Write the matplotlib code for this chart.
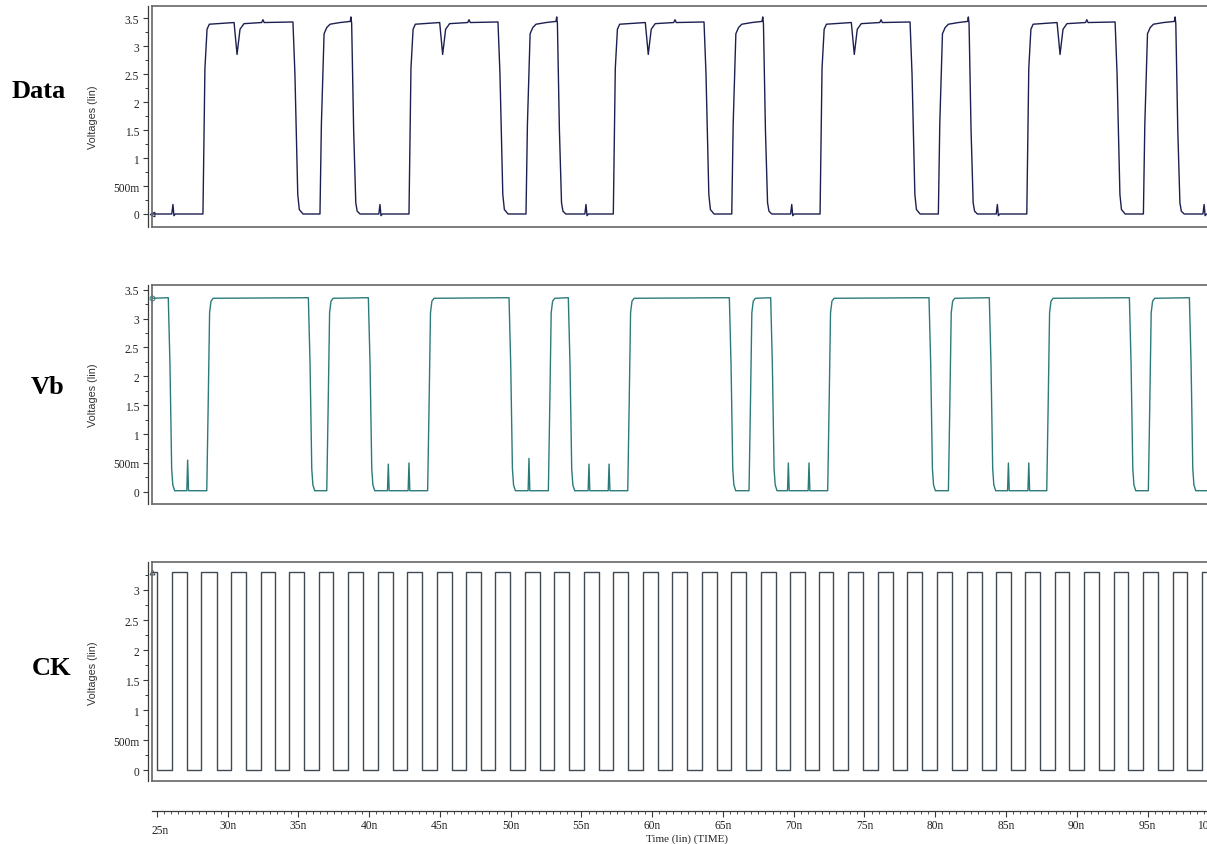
import matplotlib
matplotlib.use("Agg")
import matplotlib.pyplot as plt
import matplotlib.transforms as mtransforms
from matplotlib.ticker import MultipleLocator, FixedLocator, FixedFormatter

plt.rcParams["font.family"] = ["Liberation Serif", "DejaVu Serif"]

# --- FIGURE / LAYOUT (pixels) ---
W, H = 1207, 845
T_LEFT, T_RIGHT = 24.65, 100.83   # ns at x=152 px and x=1230 px (axes run past the right edge)

# --- DATA: (time in ns, voltage in V) ---
data_t = [24.65, 26.05, 26.13, 26.20, 26.30,
          28.25, 28.39, 28.54, 28.70, 30.45, 30.66, 30.87, 31.15, 32.40, 32.49, 32.58,
          34.61, 34.75, 34.95, 35.06, 35.32, 36.52, 36.62, 36.81, 37.00, 37.23, 37.94,
          38.66, 38.71, 38.76, 38.90, 39.05, 39.15, 39.35, 40.68, 40.76, 40.83, 40.93,
          42.81, 42.95, 43.10, 43.26, 44.98, 45.19, 45.40, 45.68, 46.96, 47.05, 47.14,
          49.10, 49.24, 49.44, 49.55, 49.81, 51.08, 51.18, 51.37, 51.56, 51.79, 52.50,
          53.20, 53.25, 53.30, 53.44, 53.59, 53.69, 53.89, 55.24, 55.32, 55.39, 55.49,
          57.25, 57.39, 57.54, 57.70, 59.51, 59.72, 59.93, 60.21, 61.52, 61.61, 61.70,
          63.66, 63.80, 64.00, 64.11, 64.37, 65.62, 65.72, 65.91, 66.10, 66.33, 67.04,
          67.76, 67.81, 67.86, 68.00, 68.15, 68.25, 68.45, 69.78, 69.86, 69.93, 70.03,
          71.86, 72.00, 72.15, 72.31, 74.07, 74.28, 74.49, 74.77, 76.08, 76.17, 76.26,
          78.22, 78.36, 78.56, 78.67, 78.93, 80.22, 80.32, 80.51, 80.70, 80.93, 81.64,
          82.29, 82.34, 82.39, 82.53, 82.68, 82.78, 82.98, 84.31, 84.39, 84.46, 84.56,
          86.47, 86.61, 86.76, 86.92, 88.61, 88.82, 89.03, 89.31, 90.62, 90.71, 90.80,
          92.71, 92.85, 93.05, 93.16, 93.42, 94.71, 94.81, 95.00, 95.19, 95.42, 96.13,
          96.90, 96.95, 97.00, 97.14, 97.29, 97.39, 97.59, 98.92, 99.00, 99.07, 99.17,
          100.83]
data_v = [0.0, 0.0, 0.17, -0.03, 0.0,
          0.0, 2.6, 3.30, 3.39, 3.42, 2.85, 3.30, 3.40, 3.42, 3.47, 3.42,
          3.43, 2.5, 0.35, 0.08, 0.0, 0.0, 1.6, 3.22, 3.33, 3.39, 3.42,
          3.44, 3.52, 3.40, 1.5, 0.2, 0.05, 0.0, 0.0, 0.17, -0.03, 0.0,
          0.0, 2.6, 3.30, 3.39, 3.42, 2.85, 3.30, 3.40, 3.42, 3.47, 3.42,
          3.43, 2.5, 0.35, 0.08, 0.0, 0.0, 1.6, 3.22, 3.33, 3.39, 3.42,
          3.44, 3.52, 3.40, 1.5, 0.2, 0.05, 0.0, 0.0, 0.17, -0.03, 0.0,
          0.0, 2.6, 3.30, 3.39, 3.42, 2.85, 3.30, 3.40, 3.42, 3.47, 3.42,
          3.43, 2.5, 0.35, 0.08, 0.0, 0.0, 1.6, 3.22, 3.33, 3.39, 3.42,
          3.44, 3.52, 3.40, 1.5, 0.2, 0.05, 0.0, 0.0, 0.17, -0.03, 0.0,
          0.0, 2.6, 3.30, 3.39, 3.42, 2.85, 3.30, 3.40, 3.42, 3.47, 3.42,
          3.43, 2.5, 0.35, 0.08, 0.0, 0.0, 1.6, 3.22, 3.33, 3.39, 3.42,
          3.44, 3.52, 3.40, 1.5, 0.2, 0.05, 0.0, 0.0, 0.17, -0.03, 0.0,
          0.0, 2.6, 3.30, 3.39, 3.42, 2.85, 3.30, 3.40, 3.42, 3.47, 3.42,
          3.43, 2.5, 0.35, 0.08, 0.0, 0.0, 1.6, 3.22, 3.33, 3.39, 3.42,
          3.44, 3.52, 3.40, 1.5, 0.2, 0.05, 0.0, 0.0, 0.17, -0.03, 0.0,
          0.0]

vb_t = [24.65, 25.80, 25.92, 26.04, 26.12, 26.25, 27.11, 27.17, 27.23,
        28.52, 28.62, 28.72, 28.82, 28.97, 35.70, 35.82, 35.94, 36.02, 36.15,
        37.00, 37.10, 37.20, 37.30, 37.45, 39.94, 40.06, 40.18, 40.26, 40.39,
        41.29, 41.35, 41.41, 42.75, 42.81, 42.87,
        44.13, 44.23, 44.33, 44.43, 44.58, 49.88, 50.00, 50.12, 50.20, 50.33,
        51.23, 51.29, 51.35,
        52.66, 52.76, 52.86, 52.96, 53.11, 54.07, 54.19, 54.31, 54.39, 54.52,
        55.47, 55.53, 55.59, 56.89, 56.95, 57.01,
        58.27, 58.37, 58.47, 58.57, 58.72, 65.45, 65.57, 65.69, 65.77, 65.90,
        66.84, 66.94, 67.04, 67.14, 67.29, 68.37, 68.49, 68.61, 68.69, 68.82,
        69.56, 69.62, 69.68, 71.02, 71.08, 71.14,
        72.40, 72.50, 72.60, 72.70, 72.85, 79.56, 79.68, 79.80, 79.88, 80.01,
        80.93, 81.03, 81.13, 81.23, 81.38, 83.82, 83.94, 84.06, 84.14, 84.27,
        85.11, 85.17, 85.23, 86.55, 86.61, 86.67,
        87.88, 87.98, 88.08, 88.18, 88.33, 93.72, 93.84, 93.96, 94.04, 94.17,
        95.06, 95.16, 95.26, 95.36, 95.51, 97.96, 98.08, 98.20, 98.28, 98.41,
        100.83]
vb_v = [3.35, 3.36, 2.2, 0.4, 0.12, 0.02, 0.02, 0.55, 0.02,
        0.02, 1.5, 3.10, 3.30, 3.35, 3.36, 2.2, 0.4, 0.12, 0.02,
        0.02, 1.5, 3.10, 3.30, 3.35, 3.36, 2.2, 0.4, 0.12, 0.02,
        0.02, 0.48, 0.02, 0.02, 0.50, 0.02,
        0.02, 1.5, 3.10, 3.30, 3.35, 3.36, 2.2, 0.4, 0.12, 0.02,
        0.02, 0.58, 0.02,
        0.02, 1.5, 3.10, 3.30, 3.35, 3.36, 2.2, 0.4, 0.12, 0.02,
        0.02, 0.48, 0.02, 0.02, 0.48, 0.02,
        0.02, 1.5, 3.10, 3.30, 3.35, 3.36, 2.2, 0.4, 0.12, 0.02,
        0.02, 1.5, 3.10, 3.30, 3.35, 3.36, 2.2, 0.4, 0.12, 0.02,
        0.02, 0.50, 0.02, 0.02, 0.50, 0.02,
        0.02, 1.5, 3.10, 3.30, 3.35, 3.36, 2.2, 0.4, 0.12, 0.02,
        0.02, 1.5, 3.10, 3.30, 3.35, 3.36, 2.2, 0.4, 0.12, 0.02,
        0.02, 0.50, 0.02, 0.02, 0.50, 0.02,
        0.02, 1.5, 3.10, 3.30, 3.35, 3.36, 2.2, 0.4, 0.12, 0.02,
        0.02, 1.5, 3.10, 3.30, 3.35, 3.36, 2.2, 0.4, 0.12, 0.02,
        0.02]

# clock edges (ns), high level 3.3 V
ck_rise = [26.09, 28.11, 30.23, 32.33, 34.35, 36.47, 38.52, 40.64, 42.69, 44.77,
           46.84, 48.91, 51.01, 53.08, 55.18, 57.25, 59.33, 61.42, 63.50, 65.57,
           67.67, 69.74, 71.81, 73.86, 75.98, 78.03, 80.13, 82.23, 84.30, 86.37,
           88.45, 90.54, 92.62, 94.71, 96.78, 98.83]
ck_fall = [24.98, 27.14, 29.22, 31.29, 33.34, 35.41, 37.46, 39.58, 41.70, 43.75,
           45.83, 47.90, 49.97, 52.07, 54.14, 56.24, 58.31, 60.39, 62.48, 64.56,
           66.63, 68.73, 70.80, 72.80, 74.92, 77.00, 79.09, 81.17, 83.29, 85.34,
           87.41, 89.48, 91.58, 93.65, 95.77, 97.82]
CK_HIGH = 3.3

# y tick labels as the viewer prints them
ytick_vals = [0, 0.5, 1, 1.5, 2, 2.5, 3, 3.5]
ytick_labels = ["0", "500m", "1", "1.5", "2", "2.5", "3", "3.5"]
xtick_vals = list(range(25, 101, 5))
xtick_labels = ["%dn" % v for v in xtick_vals]

# build the clock square wave from its edges
edges = sorted([(t, CK_HIGH) for t in ck_rise] + [(t, 0.0) for t in ck_fall])
ck_t, ck_v = [T_LEFT], [CK_HIGH]
for t, lvl in edges:
    ck_t += [t, t]
    ck_v += [ck_v[-1], lvl]
ck_t.append(T_RIGHT)
ck_v.append(ck_v[-1])

FRAME = "#666666"
AXC = "#3a3a3a"


def px_rect(left, top, right, bottom):
    return [left / W, 1 - bottom / H, (right - left) / W, (bottom - top) / H]


fig = plt.figure(figsize=(W / 100, H / 100), dpi=100)

panels = [
    # name, rect(px), t, v, color, ylim, n ticks, label pos, start marker
    ("Data", (152, 7.3, 1230, 227.7), data_t, data_v, "#1c1f50", (-0.227, 3.71), 8, (39, 92), "<"),
    ("Vb", (152, 286, 1230, 505), vb_t, vb_v, "#2b7a7a", (-0.21, 3.58), 8, (47.5, 387), "o"),
    ("CK", (152, 563.3, 1230, 782.3), ck_t, ck_v, "#3e4a56", (-0.18, 3.46), 7, (51.7, 668.6), "^"),
]

for name, rect, t, v, col, ylim, nt, lpos, mk in panels:
    ax = fig.add_axes(px_rect(*rect))
    ax.plot(t, v, color=col, lw=1.0)
    ax.plot(t[0], v[0], marker=mk, ms=3.5, mfc="none", mec=col, mew=0.7, clip_on=False)
    ax.set_xlim(T_LEFT, T_RIGHT)
    ax.set_ylim(*ylim)

    ax.yaxis.set_major_locator(FixedLocator(ytick_vals[:nt]))
    ax.yaxis.set_major_formatter(FixedFormatter(ytick_labels[:nt]))
    ax.yaxis.set_minor_locator(MultipleLocator(0.25))
    ax.tick_params(axis="y", which="major", length=3.6, width=0.8, color=AXC,
                   labelsize=8.3, pad=2.5, labelcolor="#222222")
    ax.tick_params(axis="y", which="minor", length=2.0, width=0.7, color=AXC)
    ax.set_xticks([])

    for s in ("top", "bottom", "right"):
        ax.spines[s].set_color(FRAME)
        ax.spines[s].set_linewidth(1.2)
    ax.spines["left"].set_position(("outward", 3.2))
    ax.spines["left"].set_color(AXC)
    ax.spines["left"].set_linewidth(0.9)
    # inner left edge of the plot box
    ax.plot([0, 0], [0, 1], transform=ax.transAxes, color=FRAME, lw=1.2, clip_on=False)

    cy = (rect[1] + rect[3]) / 2
    fig.text(93 / W, 1 - cy / H, "Voltages (lin)", rotation=90, ha="center", va="center",
             fontsize=7.8, family="Liberation Sans", color="#333333")
    fig.text(lpos[0] / W, 1 - lpos[1] / H, name, ha="center", va="center",
             fontsize=19, fontweight="bold", color="black")

# --- time ruler ---
axt = fig.add_axes(px_rect(152, 800, 1230, 812))
axt.set_xlim(T_LEFT, T_RIGHT)
axt.set_yticks([])
for s in ("top", "left", "right"):
    axt.spines[s].set_visible(False)
axt.spines["bottom"].set_color(AXC)
axt.spines["bottom"].set_linewidth(0.9)
axt.patch.set_alpha(0)
axt.xaxis.set_major_locator(FixedLocator(xtick_vals))
axt.xaxis.set_major_formatter(FixedFormatter(xtick_labels))
axt.xaxis.set_minor_locator(MultipleLocator(0.5))
axt.tick_params(axis="x", which="major", length=4.0, width=0.8, color=AXC,
                labelsize=8.3, pad=1.8, labelcolor="#222222")
axt.tick_params(axis="x", which="minor", length=2.2, width=0.6, color=AXC)
xl = axt.get_xticklabels()
# first label sits at the left edge, a little lower; the last one is clipped by the page edge
xl[0].set_ha("left")
xl[0].set_transform(xl[0].get_transform() +
                    mtransforms.ScaledTranslation(-0.05, -0.05, fig.dpi_scale_trans))
xl[-1].set_transform(xl[-1].get_transform() +
                     mtransforms.ScaledTranslation(-0.10, 0, fig.dpi_scale_trans))

fig.text(687 / W, 1 - 839.5 / H, "Time (lin) (TIME)", ha="center", va="center",
         fontsize=8.0, color="#222222")

fig.savefig("out.png", dpi=100)
